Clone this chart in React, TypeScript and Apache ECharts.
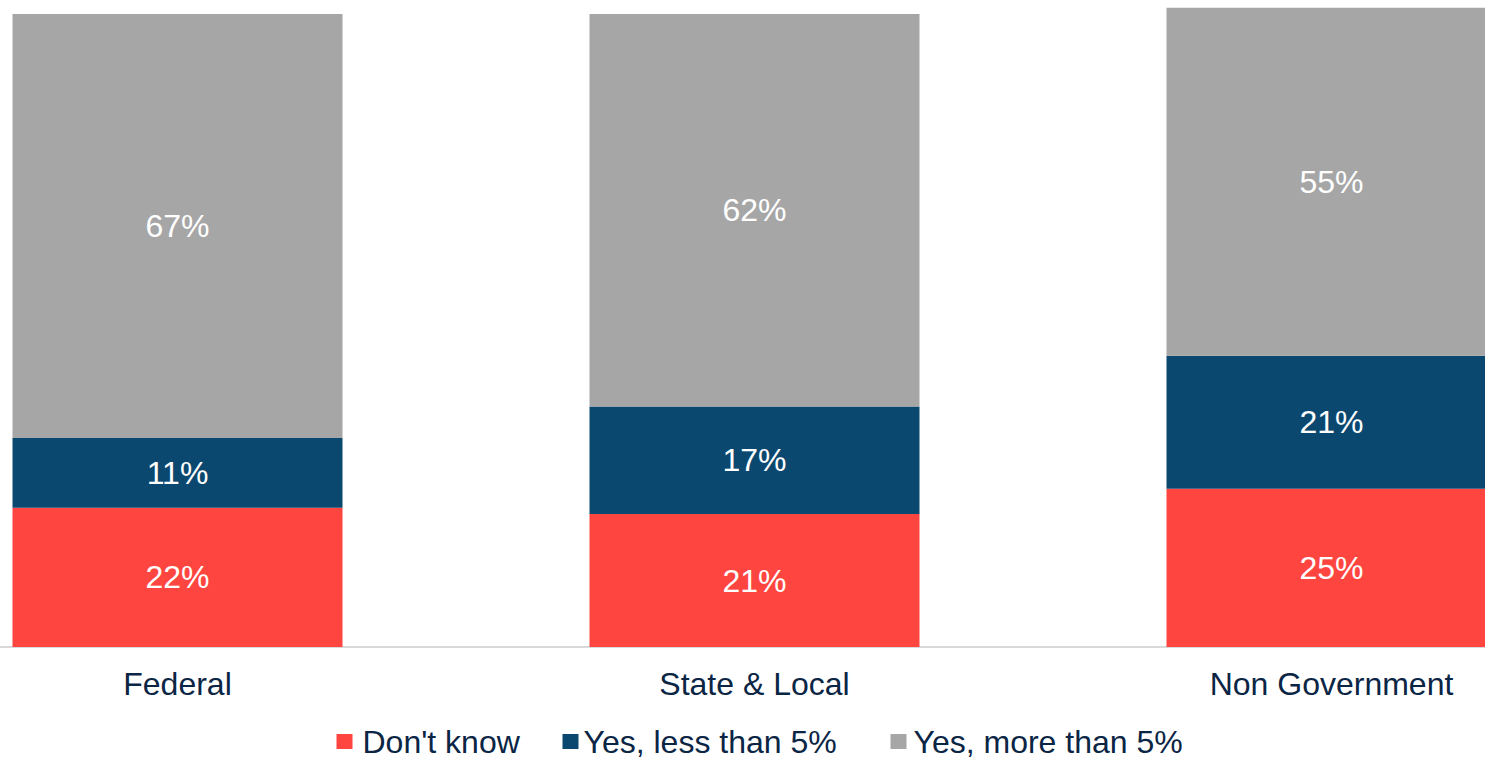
import React, { useEffect, useRef } from "react";
import * as echarts from "echarts";

const categories = ["Federal", "State & Local", "Non Government"];
const dontKnow = [22, 21, 25];
const lessThan5 = [11, 17, 21];
const moreThan5 = [67, 62, 55];

const seriesNames = ["Don't know", "Yes, less than 5%", "Yes, more than 5%"];
const seriesColors = ["#FF4540", "#0B4870", "#A6A6A6"];

const FONT = "'Liberation Sans', Arial, sans-serif";
const TEXT_COLOR = "#0B2545";

// The plot runs wider than the window, so the chart canvas is offset to the left.
const OFFSET_X = 111.5;
const CHART_W = 1731;
const CHART_H = 759;

// Legend entries: icon left edge (window px) and extra gap before the text.
const legendSlots = [
  { left: 336, textPad: 5 },
  { left: 562, textPad: 0 },
  { left: 890, textPad: 2 },
];

export default function App() {
  const ref = useRef<HTMLDivElement>(null);

  useEffect(() => {
    if (!ref.current) return;
    const chart = echarts.init(ref.current, undefined, { renderer: "svg" });
    const values = [dontKnow, lessThan5, moreThan5];
    chart.setOption({
      animation: false,
      textStyle: { fontFamily: FONT },
      grid: { left: 0, right: 0, top: 14, bottom: 112 },
      legend: seriesNames.map((name, i) => ({
        data: [name],
        left: legendSlots[i].left + OFFSET_X,
        top: 725.5,
        padding: 0,
        itemWidth: 16,
        itemHeight: 15,
        icon: "rect",
        textStyle: {
          fontSize: 32,
          color: TEXT_COLOR,
          fontFamily: FONT,
          padding: [0, 0, 0, legendSlots[i].textPad],
        },
      })),
      xAxis: {
        type: "category",
        data: categories,
        axisLine: { lineStyle: { color: "#D9D9D9", width: 2 } },
        axisTick: { show: false },
        axisLabel: { fontSize: 32, color: TEXT_COLOR, margin: 21, fontFamily: FONT },
      },
      yAxis: {
        type: "value",
        min: 0,
        max: 100,
        show: false,
        splitLine: { show: false },
      },
      series: seriesNames.map((name, i) => ({
        name,
        type: "bar",
        stack: "total",
        clip: false,
        barWidth: 330,
        data: values[i],
        itemStyle: { color: seriesColors[i] },
        label: {
          show: true,
          position: "inside",
          formatter: "{c}%",
          color: "#FFFFFF",
          fontSize: 32,
          fontFamily: FONT,
        },
      })),
    });
    return () => chart.dispose();
  }, []);

  return (
    <div
      ref={ref}
      style={{
        position: "fixed",
        left: -OFFSET_X,
        top: 0,
        width: CHART_W,
        height: CHART_H,
        background: "#fff",
      }}
    />
  );
}
